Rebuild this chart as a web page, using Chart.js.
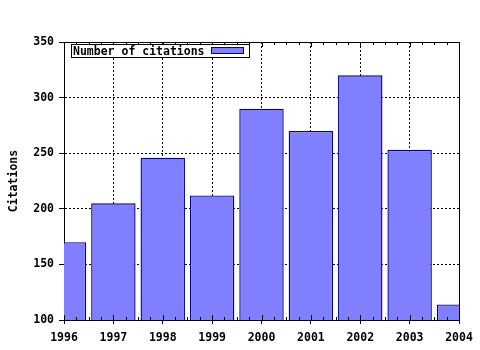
<!DOCTYPE html>
<html>
<head>
<meta charset="utf-8">
<script src="https://cdn.jsdelivr.net/npm/chart.js@4"></script>
<style>
  html, body { margin: 0; padding: 0; background: #fff; }
  #wrap { width: 480px; height: 350px; }
</style>
</head>
<body>
<div id="wrap"><canvas id="c"></canvas></div>
<script>
const years = ['1996', '1997', '1998', '1999', '2000', '2001', '2002', '2003', '2004'];
const citations = [170, 205, 246, 212, 290, 270, 320, 253, 114];
const yTicks = [100, 150, 200, 250, 300, 350];
const seriesName = 'Number of citations';

const FONT = "'DejaVu Sans Mono', monospace";
const FSIZE = 11.5;

// frame on top/right + little minor ticks + legend inside the plot
const framePlugin = {
	id: 'frame',
	afterDatasetsDraw(chart) {
		const ctx = chart.ctx;
		const a = chart.chartArea;
		const xs = chart.scales.x;
		ctx.save();
		ctx.strokeStyle = '#000';
		ctx.lineWidth = 1;
		ctx.beginPath();
		ctx.moveTo(a.left, a.top + 0.5);
		ctx.lineTo(a.right + 0.5, a.top + 0.5);
		ctx.lineTo(a.right + 0.5, a.bottom);
		ctx.stroke();

		// minor ticks top & bottom (quarters)
		ctx.beginPath();
		for (let i = 0; i < years.length - 1; i++) {
			const p0 = xs.getPixelForValue(i);
			const p1 = xs.getPixelForValue(i + 1);
			for (let k = 0; k <= 4; k++) {
				const x = Math.round(p0 + (p1 - p0) * k / 4) + 0.5;
				const len = k % 4 === 0 ? 5 : 3;
				ctx.moveTo(x, a.top);
				ctx.lineTo(x, a.top + len);
				ctx.moveTo(x, a.bottom);
				ctx.lineTo(x, a.bottom - len);
			}
		}
		ctx.stroke();

		// legend box
		const ds = chart.data.datasets[0];
		const lx = 71, ly = 44;
		const lw = 178, lh = 13;
		ctx.fillStyle = '#fff';
		ctx.fillRect(lx, ly, lw, lh);
		ctx.strokeRect(lx + 0.5, ly + 0.5, lw, lh);
		ctx.fillStyle = '#000';
		ctx.font = 'bold ' + FSIZE + 'px ' + FONT;
		ctx.textBaseline = 'middle';
		ctx.textAlign = 'left';
		ctx.fillText(ds.label, lx + 2, ly + lh / 2 + 2);
		ctx.fillStyle = ds.backgroundColor;
		ctx.fillRect(lx + 140, ly + 3, 32, 7);
		ctx.strokeStyle = ds.borderColor;
		ctx.strokeRect(lx + 140.5, ly + 3.5, 32, 6);
		ctx.restore();
	}
};

new Chart(document.getElementById('c'), {
	type: 'bar',
	data: {
		labels: years,
		datasets: [{
			label: seriesName,
			data: citations,
			backgroundColor: '#7f7fff',
			borderColor: '#00009c',
			borderWidth: 1.4,
			barPercentage: 0.9,
			categoryPercentage: 1.0,
			clip: 0
		}]
	},
	options: {
		responsive: true,
		maintainAspectRatio: false,
		animation: false,
		layout: { padding: { left: 0, top: 42, right: 21, bottom: 0 } },
		plugins: {
			legend: { display: false },
			tooltip: { enabled: false }
		},
		scales: {
			x: {
				offset: false,
				afterFit: s => { s.height = 30; },
				grid: {
					color: '#000',
					lineWidth: 1,
					tickLength: 4,
					offset: false
				},
				border: { display: true, color: '#000', width: 1, dash: [2, 2] },
				ticks: {
					color: '#000',
					font: { family: FONT, size: FSIZE, weight: 'bold' },
					padding: 7,
					maxRotation: 0,
					autoSkip: false
				}
			},
			y: {
				min: 100,
				max: 350,
				afterFit: s => { s.width = 64; },
				afterBuildTicks: s => { s.ticks = yTicks.map(v => ({ value: v })); },
				grid: {
					color: '#000',
					lineWidth: 1,
					tickLength: 5
				},
				border: { display: true, color: '#000', width: 1, dash: [2, 2] },
				ticks: {
					color: '#000',
					font: { family: FONT, size: FSIZE, weight: 'bold' },
					padding: 5
				},
				title: {
					display: true,
					text: 'Citations',
					color: '#000',
					font: { family: FONT, size: FSIZE, weight: 'bold' },
					padding: { top: 7, bottom: 0 }
				}
			}
		}
	},
	plugins: [framePlugin]
});
</script>
</body>
</html>
